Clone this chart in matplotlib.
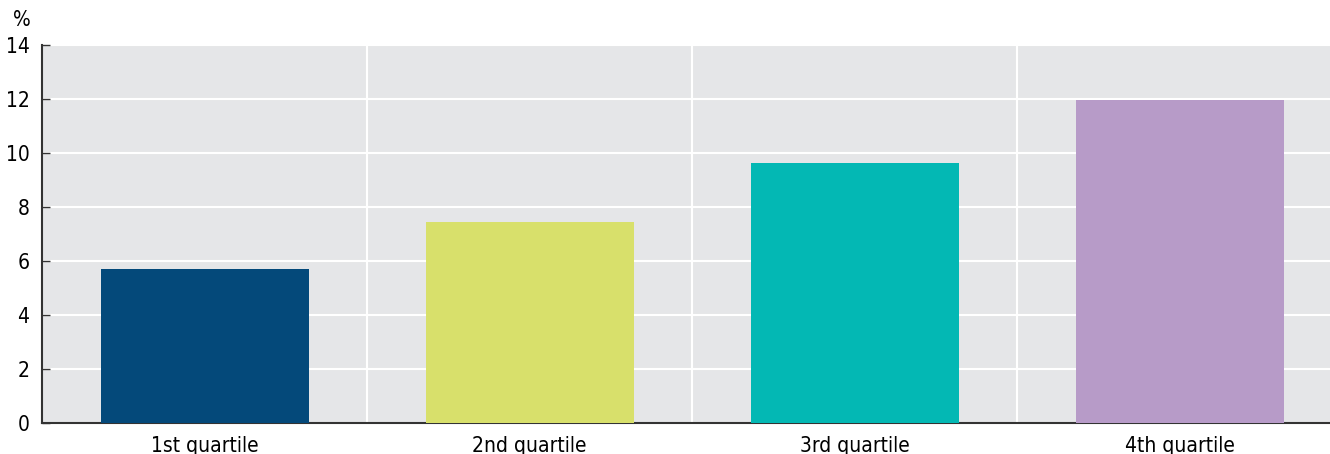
import matplotlib.pyplot as plt

categories = ["1st quartile", "2nd quartile", "3rd quartile", "4th quartile"]
values = [5.7, 7.45, 9.63, 11.95]
colors = ["#04497a", "#d8e06b", "#03b8b4", "#b79bc8"]
yticks = [0, 2, 4, 6, 8, 10, 12, 14]

plt.rcParams["font.family"] = ["DejaVu Sans"]
plt.rcParams["font.stretch"] = "condensed"

fig = plt.figure(figsize=(13.3, 4.54), dpi=100)
# the last category runs slightly past the right edge of the figure
ax = fig.add_axes([42 / 1330, 1 - 423 / 454, 1300 / 1330, (423 - 45) / 454])
ax.set_facecolor("#e5e6e8")

x = range(len(categories))
ax.bar(x, values, width=0.64, color=colors, zorder=3)

ax.set_xlim(-0.5, len(categories) - 0.5)
ax.set_ylim(0, 14)
ax.set_yticks(yticks)
ax.set_xticks(list(x))
ax.set_xticklabels(categories, fontsize=15)
ax.tick_params(axis="y", labelsize=15, direction="in", length=6, width=1,
               color="#333333", pad=9)
ax.tick_params(axis="x", length=0, pad=9)

for y in yticks[1:]:
    ax.axhline(y, color="white", lw=1.5, zorder=1)
for b in [0.5, 1.5, 2.5]:
    ax.axvline(b, color="white", lw=1.5, zorder=1)

for s in ["top", "right"]:
    ax.spines[s].set_visible(False)
for s in ["left", "bottom"]:
    ax.spines[s].set_color("#333333")
    ax.spines[s].set_linewidth(1.5)

fig.text(13 / 1330, 1 - 20 / 454, "%", fontsize=15, va="center", ha="left")

fig.savefig("out.png", dpi=100)
